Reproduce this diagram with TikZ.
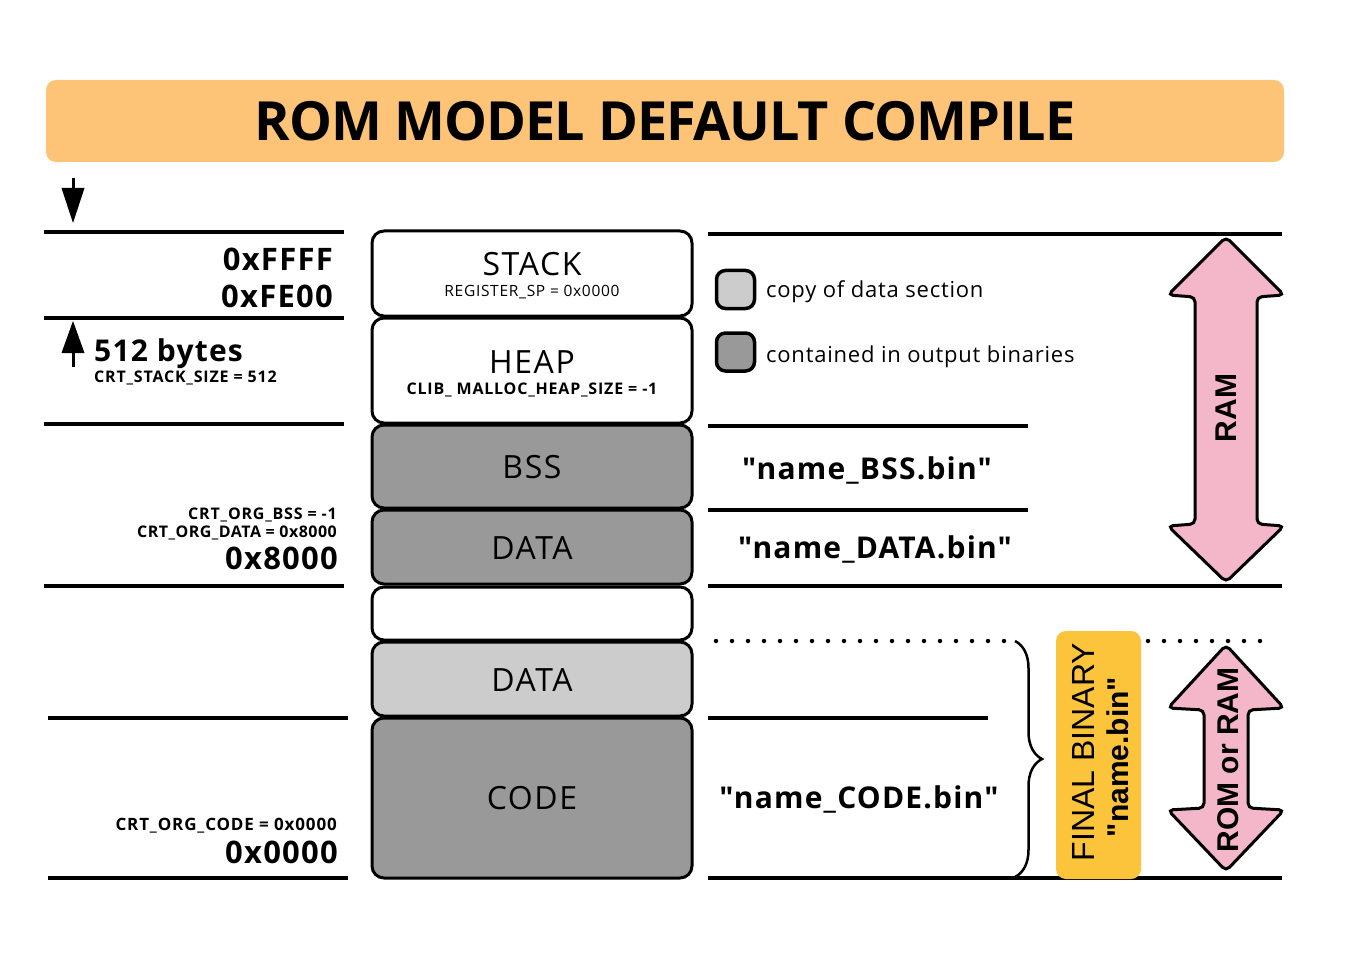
\documentclass[tikz,border=0pt]{standalone}
\usepackage{fontspec}
\setmainfont{Open Sans}
\newfontfamily\osq{Open Sans}
\newfontfamily\arialfont{Liberation Sans}
\usetikzlibrary{decorations.pathreplacing}
\definecolor{titlec}{HTML}{FDC477}
\definecolor{grayc}{HTML}{999999}
\definecolor{lightc}{HTML}{CCCCCC}
\definecolor{pinkc}{HTML}{F4B6C9}
\definecolor{finalc}{HTML}{FCC43B}
\newcommand{\fs}[1]{\fontsize{#1}{#1}\selectfont}
\newcommand{\ls}[1]{\addfontfeatures{LetterSpace=#1}}
\begin{document}
\begin{tikzpicture}[x=1pt,y=-1pt,
  seg/.style={draw=black, line width=3pt, rounded corners=12pt, minimum width=320pt, inner sep=0pt},
  rule/.style={line width=3.5pt},
  addr/.style={anchor=base east, inner sep=0pt, font=\bfseries\fs{31}\ls{4}},
  param/.style={anchor=base east, inner sep=0pt, font=\bfseries\fs{16}\ls{5}},
  segname/.style={inner sep=0pt, anchor=base, font=\fs{32}\ls{5}},
  segparam/.style={inner sep=0pt, anchor=base, font=\fs{15.5}\ls{4.5}},
  fname/.style={inner sep=0pt, anchor=base, font=\osq\bfseries\fs{30}\ls{4}},
  legbox/.style={draw=black, line width=3.5pt, rounded corners=9pt, minimum width=38pt, minimum height=38pt, inner sep=0pt},
  legtext/.style={anchor=base west, inner sep=0pt, font=\fs{22}\ls{3.5}},
  bigarrow/.style={draw=black, line width=3pt, fill=pinkc, rounded corners=5pt},
  arrtext/.style={rotate=90, inner sep=0pt, font=\arialfont\bfseries\fs{30}},
  dotline/.style={line width=4.5pt, line cap=round, dash pattern=on 0pt off 16pt}
]
\useasboundingbox (0,0) rectangle (1358,960);
% title
\node[fill=titlec, rounded corners=10pt, minimum width=1238pt, minimum height=82pt, inner sep=0pt] (title) at (665,121) {};
\node[inner sep=0pt, font=\bfseries\fs{54}\ls{-2}] (titletext) at (665,121) {ROM MODEL DEFAULT COMPILE};
% small arrows
\coordinate (da1) at (73,178);
\coordinate (da2) at (73,195);
\draw[line width=3pt] (da1) -- (da2);
\fill (61.5,188) -- (84.5,188) -- (73,223) -- cycle;
\coordinate (ua1) at (73,367);
\coordinate (ua2) at (73,345);
\draw[line width=3pt] (ua1) -- (ua2);
\fill (61.5,353) -- (84.5,353) -- (73,321) -- cycle;
% left rules
\draw[rule] (44,232) -- (344,232);
\draw[rule] (44,318) -- (344,318);
\draw[rule] (44,424) -- (344,424);
\draw[rule] (44,586) -- (344,586);
\draw[rule] (48,718) -- (348,718);
\draw[rule] (48,878) -- (348,878);
% left labels
\node[addr] (affff) at (333,271) {0xFFFF};
\node[addr] (afe00) at (333,307) {0xFE00};
\node[anchor=base west, inner sep=0pt, font=\bfseries\fs{30}\ls{4}] (bytes) at (94,361) {512 bytes};
\node[anchor=base west, inner sep=0pt, font=\bfseries\fs{16}\ls{5}] (stsize) at (94,382) {CRT\_STACK\_SIZE = 512};
\node[param] (orgbss) at (337,519) {CRT\_ORG\_BSS = -1};
\node[param, font=\bfseries\fs{16}\ls{3}] (orgdata) at (337,537) {CRT\_ORG\_DATA = 0x8000};
\node[addr] (a8000) at (338,569) {0x8000};
\node[param, font=\bfseries\fs{17}\ls{5}] (orgcode) at (337,830) {CRT\_ORG\_CODE = 0x0000};
\node[addr] (a0000) at (338,863) {0x0000};
% segments
\node[seg, fill=white, minimum height=85pt] (stack) at (532,273.5) {};
\node[seg, fill=white, minimum height=105pt] (heap) at (532,370.5) {};
\node[seg, fill=grayc, minimum height=83pt] (bss) at (532,466.5) {};
\node[seg, fill=grayc, minimum height=74pt] (data) at (532,547) {};
\node[seg, fill=white, minimum height=53pt] (empty) at (532,613.5) {};
\node[seg, fill=lightc, minimum height=74pt] (datacopy) at (532,679) {};
\node[seg, fill=grayc, minimum height=160pt] (code) at (532,798) {};
\node[segname] (stackt) at (532,276) {STACK};
\node[segparam] at (532,297) {REGISTER\_SP = 0x0000};
\node[segname] (heapt) at (532,373) {HEAP};
\node[segparam, font=\bfseries\fs{16}\ls{5}] at (532,394) {CLIB\_ MALLOC\_HEAP\_SIZE = -1};
\node[segname] (bsst) at (532,478) {BSS};
\node[segname] (datat) at (532,559) {DATA};
\node[segname] (datacopyt) at (532,691) {DATA};
\node[segname] (codet) at (532,809) {CODE};
% right rules
\draw[rule] (708,234) -- (1282,234);
\draw[rule] (708,426) -- (1028,426);
\draw[rule] (708,510) -- (1028,510);
\draw[rule] (708,586) -- (1282,586);
\draw[rule] (708,718) -- (988,718);
\draw[rule] (708,878) -- (1282,878);
\draw[dotline] (716,641) -- (1012,641);
\draw[dotline] (1148,641) -- (1276,641);
% legend
\node[legbox, fill=lightc] (leg1) at (735.5,289.5) {};
\node[legbox, fill=grayc] (leg2) at (735.5,352) {};
\node[legtext] (leg1t) at (766,298) {copy of data section};
\node[legtext] (leg2t) at (766,362) {contained in output binaries};
% file names
\node[fname] (fbss) at (867,479) {"name\_BSS.bin"};
\node[fname] (fdata) at (875,558) {"name\_DATA.bin"};
\node[fname] (fcode) at (859,808) {"name\_CODE.bin"};
% brace
\draw[line width=2.5pt, decorate, decoration={brace, amplitude=27pt}] (1015,641) -- (1015,877);
% final binary
\node[fill=finalc, rounded corners=10pt, minimum width=85pt, minimum height=248pt, inner sep=0pt] (fb) at (1098.5,755) {};
\node[rotate=90, inner sep=0pt, font=\arialfont\fs{32}] (fbt) at (1083,752) {FINAL BINARY};
\node[rotate=90, inner sep=0pt, font=\arialfont\bfseries\fs{30}] (fbn) at (1118,757) {"name.bin"};
% RAM arrow
\draw[bigarrow] (1226,237) -- (1284,295) -- (1257,297) -- (1257,524) -- (1284,526) -- (1226,582) -- (1168,526) -- (1195,524) -- (1195,297) -- (1168,295) -- cycle;
\node[arrtext] (ram) at (1226,408) {RAM};
% ROM or RAM arrow
\draw[bigarrow] (1226,645) -- (1284,708) -- (1248,710) -- (1248,808) -- (1284,810) -- (1226,871) -- (1168,810) -- (1204,808) -- (1204,710) -- (1168,708) -- cycle;
\node[arrtext] (romram) at (1228,760) {ROM or RAM};
\end{tikzpicture}
\end{document}
